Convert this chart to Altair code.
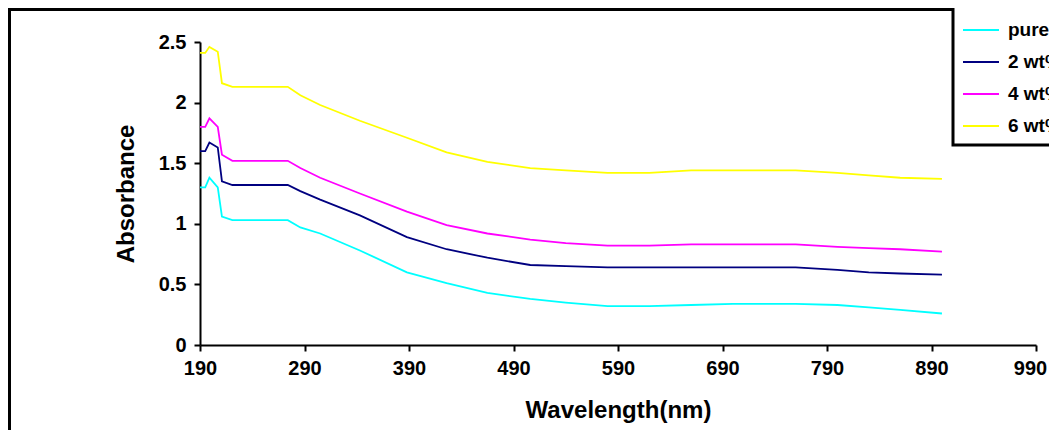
import altair as alt
import pandas as pd

wavelength = [190, 195, 199, 207, 211, 221, 274, 286, 305, 343, 388, 426, 465, 506,
              540, 580, 620, 660, 700, 760, 800, 830, 860, 900]
pure = [1.30, 1.30, 1.38, 1.30, 1.06, 1.03, 1.03, 0.97, 0.92, 0.78, 0.60, 0.51, 0.43, 0.38,
        0.35, 0.32, 0.32, 0.33, 0.34, 0.34, 0.33, 0.31, 0.29, 0.26]
wt2 = [1.60, 1.60, 1.67, 1.63, 1.35, 1.32, 1.32, 1.27, 1.20, 1.07, 0.89, 0.79, 0.72, 0.66,
       0.65, 0.64, 0.64, 0.64, 0.64, 0.64, 0.62, 0.60, 0.59, 0.58]
wt4 = [1.80, 1.80, 1.87, 1.80, 1.57, 1.52, 1.52, 1.46, 1.38, 1.25, 1.10, 0.99, 0.92, 0.87,
       0.84, 0.82, 0.82, 0.83, 0.83, 0.83, 0.81, 0.80, 0.79, 0.77]
wt6 = [2.41, 2.41, 2.46, 2.42, 2.16, 2.13, 2.13, 2.06, 1.98, 1.85, 1.71, 1.59, 1.51, 1.46,
       1.44, 1.42, 1.42, 1.44, 1.44, 1.44, 1.42, 1.40, 1.38, 1.37]

series_names = ["pure", "2 wt%", "4 wt%", "6 wt%"]
series_colors = ["#00FFFF", "#000080", "#FF00FF", "#FFFF00"]
x_ticks = [190, 290, 390, 490, 590, 690, 790, 890, 990]
y_ticks = [0, 0.5, 1, 1.5, 2, 2.5]

rows = []
for name, vals in zip(series_names, [pure, wt2, wt4, wt6]):
    for w, v in zip(wavelength, vals):
        rows.append({"Wavelength": w, "Absorbance": v, "Sample": name})
df = pd.DataFrame(rows)

FONT = "Liberation Sans"

lines = alt.Chart(df).mark_line(strokeWidth=1.8).encode(
    x=alt.X("Wavelength:Q",
            scale=alt.Scale(domain=[190, 990], nice=False, zero=False),
            axis=alt.Axis(values=x_ticks, title="Wavelength(nm)", grid=False,
                          labelFlush=False,
                          labelOffset={"condition": {"test": "datum.value === 990", "value": -6},
                                       "value": 0},
                          labelFont=FONT, labelFontWeight="bold", labelFontSize=20,
                          labelColor="black", labelPadding=7,
                          titleFont=FONT, titleFontWeight="bold", titleFontSize=24,
                          titleColor="black", titlePadding=20,
                          domainColor="black", domainWidth=2,
                          tickColor="black", tickWidth=2, tickSize=6)),
    y=alt.Y("Absorbance:Q",
            scale=alt.Scale(domain=[0, 2.5], nice=False),
            axis=alt.Axis(values=y_ticks, title="Absorbance", grid=False, format="~g",
                          labelFlush=False,
                          labelFont=FONT, labelFontWeight="bold", labelFontSize=20,
                          labelColor="black", labelPadding=8,
                          titleFont=FONT, titleFontWeight="bold", titleFontSize=24,
                          titleColor="black", titlePadding=20,
                          domainColor="black", domainWidth=2,
                          tickColor="black", tickWidth=2, tickSize=6)),
    color=alt.Color("Sample:N",
                    scale=alt.Scale(domain=series_names, range=series_colors),
                    sort=series_names,
                    legend=alt.Legend(title=None, orient="none", legendX=753, legendY=-40,
                                      symbolType="stroke", symbolSize=1296,
                                      symbolStrokeWidth=1.8, labelFont=FONT,
                                      labelFontWeight="bold", labelFontSize=19,
                                      labelColor="black", labelOffset=8,
                                      rowPadding=3, padding=9,
                                      strokeColor="black", fillColor="white")),
)

frame = alt.Chart(pd.DataFrame({"a": [0]})).mark_rect(
    fill="transparent", stroke="black", strokeWidth=3
).encode(x=alt.value(-190.5), x2=alt.value(1200), y=alt.value(-32.5), y2=alt.value(600))

chart = alt.layer(lines, frame).properties(
    width=836, height=303,
    autosize=alt.AutoSizeParams(type="none"),
    padding={"left": 192, "top": 34, "right": 13, "bottom": 85},
).configure_view(stroke=None).configure_legend(strokeWidth=3)

chart.save("out.html", embed_options={"renderer": "svg", "actions": False})
